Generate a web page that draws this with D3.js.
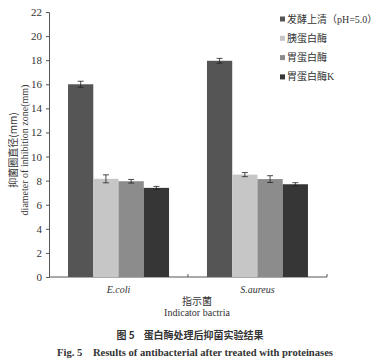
<!DOCTYPE html>
<html>
<head>
<meta charset="utf-8">
<script src="https://cdn.jsdelivr.net/npm/d3@7/dist/d3.min.js"></script>
<style>
  body { margin: 0; background: #fff; }
  text { font-family: "Liberation Serif", "Noto Sans CJK SC", serif; fill: #333; }
</style>
</head>
<body>
<svg id="chart" width="377" height="364"></svg>
<script>
// data
const groups = ["E.coli", "S.aureus"]
const treatments = ["发酵上清（pH=5.0）", "胰蛋白酶", "胃蛋白酶", "胃蛋白酶K"]
const ecoliMean = [16.0, 8.15, 7.95, 7.4]
const ecoliErr = [0.25, 0.33, 0.15, 0.12]
const saureusMean = [17.95, 8.5, 8.13, 7.7]
const saureusErr = [0.2, 0.17, 0.28, 0.13]
const yTicks = [0, 2, 4, 6, 8, 10, 12, 14, 16, 18, 20, 22]
const colors = ["#555555", "#c6c6c6", "#8c8c8c", "#363636"]

const means = [ecoliMean, saureusMean]
const errs = [ecoliErr, saureusErr]

const svg = d3.select("#chart")
const margin = {left: 49, right: 50, top: 12, bottom: 87}
const width = 377 - margin.left - margin.right
const height = 364 - margin.top - margin.bottom

const g = svg.append("g").attr("transform", "translate(" + margin.left + "," + margin.top + ")")

let x0 = d3.scaleBand().domain(groups).range([0, width]).paddingInner(0.273).paddingOuter(0.137)
let x1 = d3.scaleBand().domain(treatments).range([0, x0.bandwidth()])
let y = d3.scaleLinear().domain([0, 22]).range([height, 0])

// y axis
const yAxis = g.append("g")
    .call(d3.axisLeft(y).tickValues(yTicks).tickSize(3).tickPadding(4))
yAxis.select(".domain").attr("stroke", "#555")
yAxis.selectAll(".tick line").attr("stroke", "#555")
yAxis.selectAll("text").style("font-size", "11px").style("font-family", "Liberation Serif").attr("fill", "#444")

// x axis line with ticks at group boundaries
g.append("line").attr("x1", 0).attr("x2", width).attr("y1", height).attr("y2", height).attr("stroke", "#555")
const step = x0.step()
const bounds = [step, width]
g.selectAll(".xb").data(bounds).enter().append("line")
    .attr("x1", d => d).attr("x2", d => d)
    .attr("y1", height).attr("y2", height - 3)
    .attr("stroke", "#555")

// bars
const grp = g.selectAll(".grp").data(groups).enter().append("g")
    .attr("transform", d => "translate(" + x0(d) + ",0)")

grp.each(function(gname, gi) {
    const sel = d3.select(this)
    const rows = treatments.map((t, i) => ({t: t, v: means[gi][i], e: errs[gi][i], i: i}))
    sel.selectAll("rect").data(rows).enter().append("rect")
        .attr("x", d => x1(d.t))
        .attr("y", d => y(d.v))
        .attr("width", x1.bandwidth())
        .attr("height", d => height - y(d.v))
        .attr("fill", d => colors[d.i])
    // error bars
    const eb = sel.selectAll(".eb").data(rows).enter().append("g")
    eb.append("line")
        .attr("x1", d => x1(d.t) + x1.bandwidth() / 2).attr("x2", d => x1(d.t) + x1.bandwidth() / 2)
        .attr("y1", d => y(d.v + d.e)).attr("y2", d => y(d.v - d.e))
        .attr("stroke", "#222").attr("stroke-width", 0.8)
    eb.selectAll(".cap").data(d => [d.v + d.e, d.v - d.e].map(val => ({val: val, d: d}))).enter().append("line")
        .attr("x1", c => x1(c.d.t) + x1.bandwidth() / 2 - 3).attr("x2", c => x1(c.d.t) + x1.bandwidth() / 2 + 3)
        .attr("y1", c => y(c.val)).attr("y2", c => y(c.val))
        .attr("stroke", "#222").attr("stroke-width", 0.8)
})

// x labels
g.selectAll(".xl").data(groups).enter().append("text")
    .attr("x", d => x0(d) + x0.bandwidth() / 2)
    .attr("y", height + 16)
    .attr("text-anchor", "middle")
    .style("font-size", "10px").style("font-style", "italic").attr("fill", "#444")
    .text(d => d)

svg.append("text").attr("x", 197).attr("y", 305).attr("text-anchor", "middle")
    .style("font-size", "10px").style("font-family", "Noto Sans CJK SC").attr("fill", "#555").text("指示菌")
svg.append("text").attr("x", 197).attr("y", 316).attr("text-anchor", "middle")
    .style("font-size", "10px").attr("fill", "#444").text("Indicator bactria")

// y title
const yt = svg.append("g").attr("transform", "translate(0,150) rotate(-90)")
yt.append("text").attr("x", 0).attr("y", 17).attr("text-anchor", "middle")
    .style("font-size", "10px").style("font-family", "Noto Sans CJK SC").attr("fill", "#555").text("抑菌圈直径(mm)")
yt.append("text").attr("x", 0).attr("y", 28).attr("text-anchor", "middle")
    .style("font-size", "10px").attr("fill", "#444").text("diameter of inhibition zone(mm)")

// legend
const leg = svg.selectAll(".leg").data(treatments).enter().append("g")
    .attr("transform", (d, i) => "translate(280," + (19 + i * 19.3) + ")")
leg.append("rect").attr("x", 0).attr("y", -2.5).attr("width", 5).attr("height", 5)
    .attr("fill", (d, i) => colors[i])
leg.append("text").attr("x", 7).attr("y", 3.5)
    .style("font-size", "10px").style("font-family", "Liberation Serif, Noto Sans CJK SC").attr("fill", "#555")
    .text(d => d)

// captions
svg.append("text").attr("x", 190).attr("y", 339).attr("text-anchor", "middle")
    .style("font-size", "10px").style("font-weight", "bold").style("font-family", "Noto Sans CJK SC")
    .attr("fill", "#111").attr("xml:space", "preserve").text("图 5    蛋白酶处理后抑菌实验结果")
svg.append("text").attr("x", 195).attr("y", 356).attr("text-anchor", "middle")
    .style("font-size", "10.6px").style("font-weight", "bold")
    .attr("fill", "#111").attr("xml:space", "preserve").text("Fig. 5    Results of antibacterial after treated with proteinases")
</script>
</body>
</html>
